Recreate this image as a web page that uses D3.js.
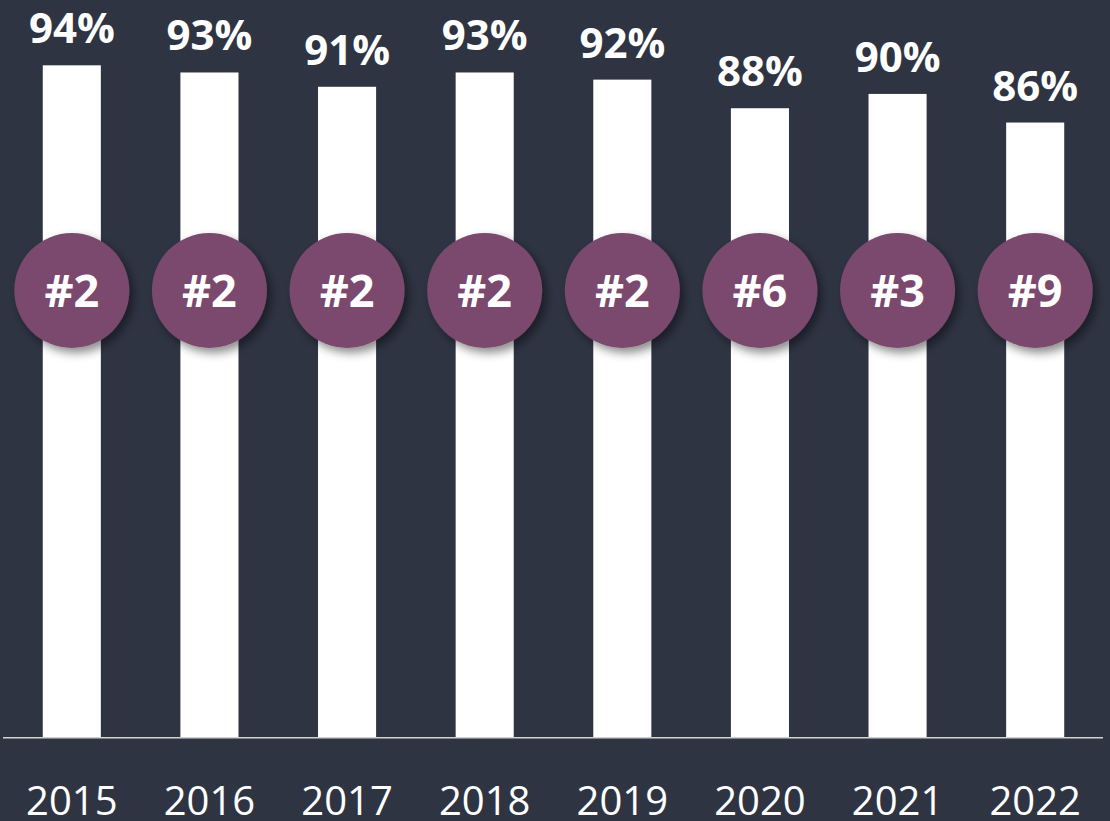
<!DOCTYPE html>
<html>
<head>
<meta charset="utf-8">
<script src="https://cdn.jsdelivr.net/npm/d3@7"></script>
<style>
  html, body { margin: 0; padding: 0; background: #2f3443; }
  svg { display: block; }
</style>
</head>
<body>
<svg id="chart" width="1110" height="821"></svg>
<script>
const years = ["2015", "2016", "2017", "2018", "2019", "2020", "2021", "2022"];
const percentages = [94, 93, 91, 93, 92, 88, 90, 86];
const ranks = ["#2", "#2", "#2", "#2", "#2", "#6", "#3", "#9"];

const W = 1110, H = 821;
const svg = d3.select("#chart");

svg.append("rect").attr("width", W).attr("height", H).attr("fill", "#2f3443");

const defs = svg.append("defs");
const f = defs.append("filter").attr("id", "shadow")
  .attr("x", "-30%").attr("y", "-30%").attr("width", "170%").attr("height", "170%");
f.append("feDropShadow").attr("dx", 4).attr("dy", 5).attr("stdDeviation", 5)
  .attr("flood-color", "#000").attr("flood-opacity", 0.45);

const baseY = 737.7;
const x = d3.scaleBand().domain(years).range([3, 1104]).paddingInner(0.578).paddingOuter(0.289);
const y = d3.scaleLinear().domain([0, 100]).range([baseY, baseY - 715.3]);

svg.selectAll("rect.bar").data(years).join("rect")
  .attr("class", "bar")
  .attr("x", d => x(d))
  .attr("width", x.bandwidth())
  .attr("y", (d, i) => y(percentages[i]))
  .attr("height", (d, i) => baseY - y(percentages[i]))
  .attr("fill", "#ffffff");

// baseline axis
svg.append("line")
  .attr("x1", 3).attr("x2", 1103)
  .attr("y1", baseY).attr("y2", baseY)
  .attr("stroke", "#d2d2d2").attr("stroke-width", 1.6);

// value labels
svg.selectAll("text.val").data(years).join("text")
  .attr("class", "val")
  .attr("x", d => x(d) + x.bandwidth() / 2)
  .attr("y", (d, i) => y(percentages[i]) - 22)
  .attr("text-anchor", "middle")
  .attr("font-family", "'Open Sans', sans-serif")
  .attr("font-weight", 700)
  .attr("font-size", 42)
  .attr("fill", "#ffffff")
  .text((d, i) => percentages[i] + "%");

// rank circles
const cy = 290.5;
const g = svg.selectAll("g.rank").data(years).join("g")
  .attr("class", "rank")
  .attr("transform", d => `translate(${x(d) + x.bandwidth() / 2},${cy})`);
g.append("circle").attr("r", 57.5).attr("fill", "#7a4a6d").attr("filter", "url(#shadow)");
g.append("text")
  .attr("text-anchor", "middle")
  .attr("dy", "0.36em")
  .attr("font-family", "'Open Sans', sans-serif")
  .attr("font-weight", 700)
  .attr("font-size", 45)
  .attr("fill", "#ffffff")
  .text((d, i) => ranks[i]);

// year labels
svg.selectAll("text.year").data(years).join("text")
  .attr("class", "year")
  .attr("x", d => x(d) + x.bandwidth() / 2)
  .attr("y", 815)
  .attr("text-anchor", "middle")
  .attr("font-family", "'Open Sans', sans-serif")
  .attr("font-weight", 400)
  .attr("font-size", 40)
  .attr("fill", "#ffffff")
  .text(d => d);
</script>
</body>
</html>
